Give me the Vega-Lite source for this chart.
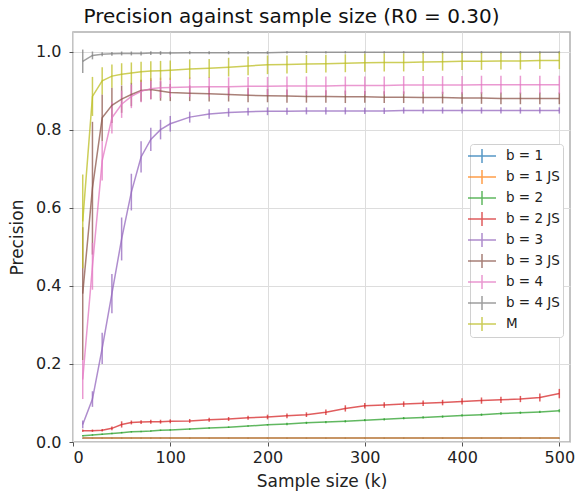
{
  "$schema": "https://vega.github.io/schema/vega-lite/v6.json",
  "width": 497,
  "height": 410,
  "autosize": {"type": "none"},
  "padding": {"left": 73, "top": 32, "right": 8, "bottom": 54},
  "config": {
    "font": "DejaVu Sans",
    "view": {"stroke": "#b0b0b0", "strokeWidth": 1.5},
    "axis": {
      "gridColor": "#dddddd", "gridWidth": 1, "domain": false,
      "tickColor": "#555555", "tickSize": 4,
      "labelFontSize": 16, "labelColor": "#222222",
      "titleFontSize": 17, "titleFontWeight": "normal", "titleColor": "#222222"
    }
  },
  "title": {"text": "Precision against sample size (R0 = 0.30)", "fontSize": 20, "fontWeight": "normal", "color": "#111111", "offset": 5, "anchor": "middle", "dx": -30},
  "data": {"values": [
    {"s":"b = 1","x":10,"y":0.01,"e":0.001},{"s":"b = 1","x":20,"y":0.01,"e":0.001},{"s":"b = 1","x":30,"y":0.01,"e":0.001},{"s":"b = 1","x":40,"y":0.01,"e":0.001},{"s":"b = 1","x":50,"y":0.01,"e":0.001},{"s":"b = 1","x":60,"y":0.01,"e":0.001},{"s":"b = 1","x":70,"y":0.01,"e":0.001},{"s":"b = 1","x":80,"y":0.01,"e":0.001},{"s":"b = 1","x":90,"y":0.01,"e":0.001},{"s":"b = 1","x":100,"y":0.01,"e":0.001},{"s":"b = 1","x":120,"y":0.01,"e":0.001},{"s":"b = 1","x":140,"y":0.01,"e":0.001},{"s":"b = 1","x":160,"y":0.01,"e":0.001},{"s":"b = 1","x":180,"y":0.01,"e":0.001},{"s":"b = 1","x":200,"y":0.01,"e":0.001},{"s":"b = 1","x":220,"y":0.01,"e":0.001},{"s":"b = 1","x":240,"y":0.01,"e":0.001},{"s":"b = 1","x":260,"y":0.01,"e":0.001},{"s":"b = 1","x":280,"y":0.01,"e":0.001},{"s":"b = 1","x":300,"y":0.01,"e":0.001},{"s":"b = 1","x":320,"y":0.01,"e":0.001},{"s":"b = 1","x":340,"y":0.01,"e":0.001},{"s":"b = 1","x":360,"y":0.01,"e":0.001},{"s":"b = 1","x":380,"y":0.01,"e":0.001},{"s":"b = 1","x":400,"y":0.01,"e":0.001},{"s":"b = 1","x":420,"y":0.01,"e":0.001},{"s":"b = 1","x":440,"y":0.01,"e":0.001},{"s":"b = 1","x":460,"y":0.01,"e":0.001},{"s":"b = 1","x":480,"y":0.01,"e":0.001},{"s":"b = 1","x":500,"y":0.01,"e":0.001},
    {"s":"b = 1 JS","x":10,"y":0.01,"e":0.001},{"s":"b = 1 JS","x":20,"y":0.01,"e":0.001},{"s":"b = 1 JS","x":30,"y":0.01,"e":0.001},{"s":"b = 1 JS","x":40,"y":0.01,"e":0.001},{"s":"b = 1 JS","x":50,"y":0.01,"e":0.001},{"s":"b = 1 JS","x":60,"y":0.01,"e":0.001},{"s":"b = 1 JS","x":70,"y":0.01,"e":0.001},{"s":"b = 1 JS","x":80,"y":0.01,"e":0.001},{"s":"b = 1 JS","x":90,"y":0.01,"e":0.001},{"s":"b = 1 JS","x":100,"y":0.01,"e":0.001},{"s":"b = 1 JS","x":120,"y":0.01,"e":0.001},{"s":"b = 1 JS","x":140,"y":0.01,"e":0.001},{"s":"b = 1 JS","x":160,"y":0.01,"e":0.001},{"s":"b = 1 JS","x":180,"y":0.01,"e":0.001},{"s":"b = 1 JS","x":200,"y":0.01,"e":0.001},{"s":"b = 1 JS","x":220,"y":0.01,"e":0.001},{"s":"b = 1 JS","x":240,"y":0.01,"e":0.001},{"s":"b = 1 JS","x":260,"y":0.01,"e":0.001},{"s":"b = 1 JS","x":280,"y":0.01,"e":0.001},{"s":"b = 1 JS","x":300,"y":0.01,"e":0.001},{"s":"b = 1 JS","x":320,"y":0.01,"e":0.001},{"s":"b = 1 JS","x":340,"y":0.01,"e":0.001},{"s":"b = 1 JS","x":360,"y":0.01,"e":0.001},{"s":"b = 1 JS","x":380,"y":0.01,"e":0.001},{"s":"b = 1 JS","x":400,"y":0.01,"e":0.001},{"s":"b = 1 JS","x":420,"y":0.01,"e":0.001},{"s":"b = 1 JS","x":440,"y":0.01,"e":0.001},{"s":"b = 1 JS","x":460,"y":0.01,"e":0.001},{"s":"b = 1 JS","x":480,"y":0.01,"e":0.001},{"s":"b = 1 JS","x":500,"y":0.01,"e":0.001},
    {"s":"b = 2","x":10,"y":0.016,"e":0.002},{"s":"b = 2","x":20,"y":0.018,"e":0.002},{"s":"b = 2","x":30,"y":0.02,"e":0.002},{"s":"b = 2","x":40,"y":0.022,"e":0.002},{"s":"b = 2","x":50,"y":0.024,"e":0.002},{"s":"b = 2","x":60,"y":0.026,"e":0.002},{"s":"b = 2","x":70,"y":0.027,"e":0.002},{"s":"b = 2","x":80,"y":0.028,"e":0.002},{"s":"b = 2","x":90,"y":0.03,"e":0.002},{"s":"b = 2","x":100,"y":0.031,"e":0.002},{"s":"b = 2","x":120,"y":0.033,"e":0.002},{"s":"b = 2","x":140,"y":0.036,"e":0.002},{"s":"b = 2","x":160,"y":0.038,"e":0.002},{"s":"b = 2","x":180,"y":0.041,"e":0.002},{"s":"b = 2","x":200,"y":0.044,"e":0.002},{"s":"b = 2","x":220,"y":0.046,"e":0.003},{"s":"b = 2","x":240,"y":0.049,"e":0.003},{"s":"b = 2","x":260,"y":0.051,"e":0.003},{"s":"b = 2","x":280,"y":0.053,"e":0.003},{"s":"b = 2","x":300,"y":0.056,"e":0.003},{"s":"b = 2","x":320,"y":0.058,"e":0.003},{"s":"b = 2","x":340,"y":0.061,"e":0.003},{"s":"b = 2","x":360,"y":0.063,"e":0.003},{"s":"b = 2","x":380,"y":0.065,"e":0.003},{"s":"b = 2","x":400,"y":0.068,"e":0.003},{"s":"b = 2","x":420,"y":0.07,"e":0.003},{"s":"b = 2","x":440,"y":0.073,"e":0.003},{"s":"b = 2","x":460,"y":0.075,"e":0.003},{"s":"b = 2","x":480,"y":0.077,"e":0.003},{"s":"b = 2","x":500,"y":0.08,"e":0.004},
    {"s":"b = 2 JS","x":10,"y":0.029,"e":0.003},{"s":"b = 2 JS","x":20,"y":0.029,"e":0.003},{"s":"b = 2 JS","x":30,"y":0.03,"e":0.003},{"s":"b = 2 JS","x":40,"y":0.035,"e":0.005},{"s":"b = 2 JS","x":50,"y":0.045,"e":0.008},{"s":"b = 2 JS","x":60,"y":0.05,"e":0.005},{"s":"b = 2 JS","x":70,"y":0.051,"e":0.005},{"s":"b = 2 JS","x":80,"y":0.052,"e":0.005},{"s":"b = 2 JS","x":90,"y":0.052,"e":0.005},{"s":"b = 2 JS","x":100,"y":0.053,"e":0.005},{"s":"b = 2 JS","x":120,"y":0.054,"e":0.005},{"s":"b = 2 JS","x":140,"y":0.057,"e":0.005},{"s":"b = 2 JS","x":160,"y":0.059,"e":0.005},{"s":"b = 2 JS","x":180,"y":0.062,"e":0.005},{"s":"b = 2 JS","x":200,"y":0.064,"e":0.006},{"s":"b = 2 JS","x":220,"y":0.067,"e":0.006},{"s":"b = 2 JS","x":240,"y":0.07,"e":0.006},{"s":"b = 2 JS","x":260,"y":0.076,"e":0.007},{"s":"b = 2 JS","x":280,"y":0.086,"e":0.008},{"s":"b = 2 JS","x":300,"y":0.093,"e":0.007},{"s":"b = 2 JS","x":320,"y":0.095,"e":0.007},{"s":"b = 2 JS","x":340,"y":0.097,"e":0.007},{"s":"b = 2 JS","x":360,"y":0.099,"e":0.007},{"s":"b = 2 JS","x":380,"y":0.101,"e":0.007},{"s":"b = 2 JS","x":400,"y":0.104,"e":0.008},{"s":"b = 2 JS","x":420,"y":0.106,"e":0.008},{"s":"b = 2 JS","x":440,"y":0.108,"e":0.008},{"s":"b = 2 JS","x":460,"y":0.11,"e":0.008},{"s":"b = 2 JS","x":480,"y":0.114,"e":0.01},{"s":"b = 2 JS","x":500,"y":0.124,"e":0.012},
    {"s":"b = 3","x":10,"y":0.045,"e":0.01},{"s":"b = 3","x":20,"y":0.11,"e":0.02},{"s":"b = 3","x":30,"y":0.24,"e":0.04},{"s":"b = 3","x":40,"y":0.38,"e":0.05},{"s":"b = 3","x":50,"y":0.52,"e":0.055},{"s":"b = 3","x":60,"y":0.64,"e":0.047},{"s":"b = 3","x":70,"y":0.73,"e":0.04},{"s":"b = 3","x":80,"y":0.775,"e":0.03},{"s":"b = 3","x":90,"y":0.8,"e":0.025},{"s":"b = 3","x":100,"y":0.815,"e":0.02},{"s":"b = 3","x":120,"y":0.832,"e":0.014},{"s":"b = 3","x":140,"y":0.84,"e":0.012},{"s":"b = 3","x":160,"y":0.844,"e":0.011},{"s":"b = 3","x":180,"y":0.846,"e":0.01},{"s":"b = 3","x":200,"y":0.847,"e":0.01},{"s":"b = 3","x":220,"y":0.847,"e":0.009},{"s":"b = 3","x":240,"y":0.848,"e":0.009},{"s":"b = 3","x":260,"y":0.848,"e":0.009},{"s":"b = 3","x":280,"y":0.848,"e":0.009},{"s":"b = 3","x":300,"y":0.848,"e":0.008},{"s":"b = 3","x":320,"y":0.848,"e":0.008},{"s":"b = 3","x":340,"y":0.849,"e":0.008},{"s":"b = 3","x":360,"y":0.849,"e":0.008},{"s":"b = 3","x":380,"y":0.849,"e":0.008},{"s":"b = 3","x":400,"y":0.849,"e":0.008},{"s":"b = 3","x":420,"y":0.849,"e":0.008},{"s":"b = 3","x":440,"y":0.849,"e":0.008},{"s":"b = 3","x":460,"y":0.849,"e":0.008},{"s":"b = 3","x":480,"y":0.849,"e":0.008},{"s":"b = 3","x":500,"y":0.849,"e":0.008},
    {"s":"b = 3 JS","x":10,"y":0.38,"e":0.17},{"s":"b = 3 JS","x":20,"y":0.65,"e":0.17},{"s":"b = 3 JS","x":30,"y":0.83,"e":0.06},{"s":"b = 3 JS","x":40,"y":0.862,"e":0.045},{"s":"b = 3 JS","x":50,"y":0.878,"e":0.035},{"s":"b = 3 JS","x":60,"y":0.89,"e":0.03},{"s":"b = 3 JS","x":70,"y":0.9,"e":0.028},{"s":"b = 3 JS","x":80,"y":0.903,"e":0.025},{"s":"b = 3 JS","x":90,"y":0.899,"e":0.025},{"s":"b = 3 JS","x":100,"y":0.895,"e":0.022},{"s":"b = 3 JS","x":120,"y":0.893,"e":0.02},{"s":"b = 3 JS","x":140,"y":0.892,"e":0.02},{"s":"b = 3 JS","x":160,"y":0.89,"e":0.018},{"s":"b = 3 JS","x":180,"y":0.888,"e":0.018},{"s":"b = 3 JS","x":200,"y":0.887,"e":0.017},{"s":"b = 3 JS","x":220,"y":0.886,"e":0.017},{"s":"b = 3 JS","x":240,"y":0.885,"e":0.016},{"s":"b = 3 JS","x":260,"y":0.885,"e":0.016},{"s":"b = 3 JS","x":280,"y":0.884,"e":0.016},{"s":"b = 3 JS","x":300,"y":0.884,"e":0.015},{"s":"b = 3 JS","x":320,"y":0.883,"e":0.015},{"s":"b = 3 JS","x":340,"y":0.883,"e":0.015},{"s":"b = 3 JS","x":360,"y":0.882,"e":0.015},{"s":"b = 3 JS","x":380,"y":0.882,"e":0.015},{"s":"b = 3 JS","x":400,"y":0.881,"e":0.015},{"s":"b = 3 JS","x":420,"y":0.881,"e":0.015},{"s":"b = 3 JS","x":440,"y":0.88,"e":0.015},{"s":"b = 3 JS","x":460,"y":0.88,"e":0.015},{"s":"b = 3 JS","x":480,"y":0.88,"e":0.015},{"s":"b = 3 JS","x":500,"y":0.88,"e":0.015},
    {"s":"b = 4","x":10,"y":0.16,"e":0.05},{"s":"b = 4","x":20,"y":0.45,"e":0.06},{"s":"b = 4","x":30,"y":0.72,"e":0.05},{"s":"b = 4","x":40,"y":0.83,"e":0.04},{"s":"b = 4","x":50,"y":0.865,"e":0.035},{"s":"b = 4","x":60,"y":0.885,"e":0.03},{"s":"b = 4","x":70,"y":0.898,"e":0.028},{"s":"b = 4","x":80,"y":0.905,"e":0.027},{"s":"b = 4","x":90,"y":0.907,"e":0.026},{"s":"b = 4","x":100,"y":0.908,"e":0.025},{"s":"b = 4","x":120,"y":0.909,"e":0.025},{"s":"b = 4","x":140,"y":0.91,"e":0.025},{"s":"b = 4","x":160,"y":0.91,"e":0.024},{"s":"b = 4","x":180,"y":0.911,"e":0.024},{"s":"b = 4","x":200,"y":0.911,"e":0.024},{"s":"b = 4","x":220,"y":0.912,"e":0.024},{"s":"b = 4","x":240,"y":0.912,"e":0.024},{"s":"b = 4","x":260,"y":0.912,"e":0.024},{"s":"b = 4","x":280,"y":0.913,"e":0.023},{"s":"b = 4","x":300,"y":0.913,"e":0.023},{"s":"b = 4","x":320,"y":0.913,"e":0.023},{"s":"b = 4","x":340,"y":0.914,"e":0.023},{"s":"b = 4","x":360,"y":0.914,"e":0.023},{"s":"b = 4","x":380,"y":0.914,"e":0.023},{"s":"b = 4","x":400,"y":0.914,"e":0.023},{"s":"b = 4","x":420,"y":0.915,"e":0.023},{"s":"b = 4","x":440,"y":0.915,"e":0.023},{"s":"b = 4","x":460,"y":0.915,"e":0.023},{"s":"b = 4","x":480,"y":0.915,"e":0.023},{"s":"b = 4","x":500,"y":0.915,"e":0.023},
    {"s":"b = 4 JS","x":10,"y":0.975,"e":0.03},{"s":"b = 4 JS","x":20,"y":0.99,"e":0.01},{"s":"b = 4 JS","x":30,"y":0.993,"e":0.005},{"s":"b = 4 JS","x":40,"y":0.994,"e":0.005},{"s":"b = 4 JS","x":50,"y":0.995,"e":0.005},{"s":"b = 4 JS","x":60,"y":0.995,"e":0.005},{"s":"b = 4 JS","x":70,"y":0.995,"e":0.005},{"s":"b = 4 JS","x":80,"y":0.996,"e":0.005},{"s":"b = 4 JS","x":90,"y":0.996,"e":0.005},{"s":"b = 4 JS","x":100,"y":0.996,"e":0.004},{"s":"b = 4 JS","x":120,"y":0.997,"e":0.004},{"s":"b = 4 JS","x":140,"y":0.997,"e":0.004},{"s":"b = 4 JS","x":160,"y":0.997,"e":0.004},{"s":"b = 4 JS","x":180,"y":0.997,"e":0.004},{"s":"b = 4 JS","x":200,"y":0.997,"e":0.004},{"s":"b = 4 JS","x":220,"y":0.998,"e":0.003},{"s":"b = 4 JS","x":240,"y":0.998,"e":0.003},{"s":"b = 4 JS","x":260,"y":0.998,"e":0.003},{"s":"b = 4 JS","x":280,"y":0.998,"e":0.003},{"s":"b = 4 JS","x":300,"y":0.998,"e":0.003},{"s":"b = 4 JS","x":320,"y":0.998,"e":0.003},{"s":"b = 4 JS","x":340,"y":0.998,"e":0.003},{"s":"b = 4 JS","x":360,"y":0.998,"e":0.003},{"s":"b = 4 JS","x":380,"y":0.998,"e":0.003},{"s":"b = 4 JS","x":400,"y":0.998,"e":0.003},{"s":"b = 4 JS","x":420,"y":0.998,"e":0.003},{"s":"b = 4 JS","x":440,"y":0.998,"e":0.003},{"s":"b = 4 JS","x":460,"y":0.998,"e":0.003},{"s":"b = 4 JS","x":480,"y":0.998,"e":0.003},{"s":"b = 4 JS","x":500,"y":0.998,"e":0.003},
    {"s":"M","x":10,"y":0.565,"e":0.12},{"s":"M","x":20,"y":0.885,"e":0.05},{"s":"M","x":30,"y":0.925,"e":0.035},{"s":"M","x":40,"y":0.937,"e":0.03},{"s":"M","x":50,"y":0.942,"e":0.028},{"s":"M","x":60,"y":0.945,"e":0.027},{"s":"M","x":70,"y":0.948,"e":0.026},{"s":"M","x":80,"y":0.95,"e":0.025},{"s":"M","x":90,"y":0.951,"e":0.025},{"s":"M","x":100,"y":0.952,"e":0.025},{"s":"M","x":120,"y":0.955,"e":0.025},{"s":"M","x":140,"y":0.957,"e":0.024},{"s":"M","x":160,"y":0.96,"e":0.024},{"s":"M","x":180,"y":0.963,"e":0.024},{"s":"M","x":200,"y":0.966,"e":0.024},{"s":"M","x":220,"y":0.967,"e":0.023},{"s":"M","x":240,"y":0.968,"e":0.023},{"s":"M","x":260,"y":0.969,"e":0.023},{"s":"M","x":280,"y":0.97,"e":0.023},{"s":"M","x":300,"y":0.971,"e":0.023},{"s":"M","x":320,"y":0.972,"e":0.023},{"s":"M","x":340,"y":0.972,"e":0.023},{"s":"M","x":360,"y":0.973,"e":0.023},{"s":"M","x":380,"y":0.974,"e":0.023},{"s":"M","x":400,"y":0.975,"e":0.022},{"s":"M","x":420,"y":0.975,"e":0.022},{"s":"M","x":440,"y":0.976,"e":0.022},{"s":"M","x":460,"y":0.976,"e":0.022},{"s":"M","x":480,"y":0.977,"e":0.022},{"s":"M","x":500,"y":0.977,"e":0.022}
  ]},
  "encoding": {
    "x": {"field": "x", "type": "quantitative", "scale": {"domain": [0, 511], "nice": false, "zero": false},
          "axis": {"values": [0, 100, 200, 300, 400, 500], "title": "Sample size (k)", "titlePadding": 8, "labelPadding": 3}},
    "y": {"field": "y", "type": "quantitative", "scale": {"domain": [0, 1.05], "nice": false},
          "axis": {"values": [0, 0.2, 0.4, 0.6, 0.8, 1.0], "format": ".1f", "title": "Precision", "titlePadding": 9, "labelPadding": 8}},
    "color": {"field": "s", "type": "nominal",
      "scale": {"domain": ["b = 1", "b = 1 JS", "b = 2", "b = 2 JS", "b = 3", "b = 3 JS", "b = 4", "b = 4 JS", "M"],
                "range": ["#1f77b4", "#ff7f0e", "#2ca02c", "#d62728", "#9467bd", "#8c564b", "#e377c2", "#7f7f7f", "#bcbd22"]},
      "legend": {"title": null, "orient": "none", "legendX": 397, "legendY": 112,
        "fillColor": "#ffffff", "strokeColor": "#d0d0d0", "cornerRadius": 3, "padding": 3,
        "symbolType": "M-1.75,0L1.75,0M0,-0.875L0,0.875", "symbolSize": 256, "symbolStrokeWidth": 1.5, "symbolOpacity": 0.75,
        "labelFontSize": 13.5, "labelColor": "#222222", "labelOffset": 15, "rowPadding": 1}}
  },
  "layer": [
    {"mark": {"type": "errorbar", "thickness": 1.5, "opacity": 0.75},
     "encoding": {"yError": {"field": "e"}}},
    {"mark": {"type": "line", "strokeWidth": 1.5, "opacity": 0.75}}
  ]
}
